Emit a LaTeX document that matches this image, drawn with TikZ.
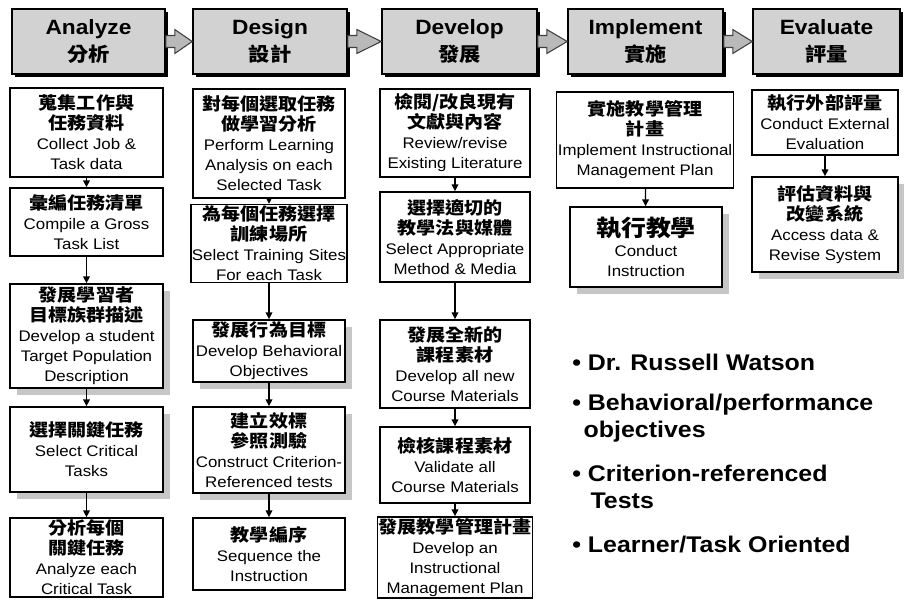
\documentclass[tikz,border=0pt]{standalone}
\usepackage{fontspec}
\setmainfont{Liberation Sans}[FakeStretch=1.1]
\newfontfamily\cjk{Noto Sans CJK TC}[FakeStretch=1.1]
\usetikzlibrary{arrows.meta,shadows}
\newcommand\zh[1]{{\cjk\bfseries\fontsize{13}{15}\selectfont #1}}
\newcommand\zhh[1]{{\cjk\bfseries\fontsize{14.5}{20}\selectfont #1}}
\newcommand\zhb[1]{{\cjk\bfseries\fontsize{17}{20}\selectfont #1}}
\newcommand\mybox[7][]{\node[box,#1,minimum width={(#4-#2)*0.75pt},minimum height={(#5-#3)*0.75pt}] (#6) at ({(#2+#4)/2},{(#3+#5)/2}) {#7};}
\newcommand\myhdr[6]{\node[hdr,minimum width={(#3-#1)*0.75pt},minimum height={(#4-#2)*0.75pt}] (#5) at ({(#1+#3)/2},{(#2+#4)/2}) {#6};}
\newcommand\harrow[2]{\path[harr] ([shift={(0,-6)}]#1.east) -- ([shift={(9,-6)}]#1.east) -- ([shift={(9,-12)}]#1.east) -- (#2.west) -- ([shift={(9,12)}]#1.east) -- ([shift={(9,6)}]#1.east) -- ([shift={(0,6)}]#1.east) -- cycle;}
\begin{document}
\begin{tikzpicture}[x=0.75pt,y=-0.75pt,
  box/.style={draw, line width=1.3pt, fill=white, align=center, inner sep=1pt, font=\fontsize{11.5}{15}\selectfont},
  shad/.style={drop shadow={shadow xshift=5.25pt, shadow yshift=-5.25pt, fill=gray!45, opacity=1}},
  hdr/.style={draw, line width=1.2pt, fill=gray!35, align=center, inner sep=1pt, drop shadow={shadow xshift=2.2pt, shadow yshift=-2.2pt, fill=black, opacity=1}, font=\bfseries\fontsize{15.5}{20}\selectfont},
  flow/.style={-{Triangle[length=5pt,width=5pt]}, line width=0.9pt},
  harr/.style={fill=gray!55, draw=black!75, line width=0.8pt},
  bul/.style={inner sep=0pt, anchor=west, align=left, font=\bfseries\fontsize{17}{20}\selectfont}]
\fill[white] (0,0) rectangle (904,600);
\useasboundingbox (0,0) rectangle (904,600);

% headers
\myhdr{12}{9}{165}{74}{h1}{Analyze\\\zhh{分析}}
\myhdr{193}{9}{347}{74}{h2}{Design\\\zhh{設計}}
\myhdr{382}{9}{537}{74}{h3}{Develop\\\zhh{發展}}
\myhdr{568}{9}{723}{74}{h4}{Implement\\\zhh{實施}}
\myhdr{753}{9}{900}{74}{h5}{Evaluate\\\zhh{評量}}
\harrow{h1}{h2}
\harrow{h2}{h3}
\harrow{h3}{h4}
\harrow{h4}{h5}

% column 1
\mybox{10}{88}{163}{177}{a1}{\zh{蒐集工作與}\\\zh{任務資料}\\Collect Job \&\\Task data}
\mybox{10}{188}{163}{256}{a2}{\zh{彙編任務清單}\\Compile a Gross\\Task List}
\mybox[shad]{10}{284}{163}{388}{a3}{\zh{發展學習者}\\\zh{目標族群描述}\\Develop a student\\Target Population\\Description}
\mybox[shad]{10}{407}{163}{492}{a4}{\zh{選擇關鍵任務}\\Select Critical\\Tasks}
\mybox{10}{518}{163}{597}{a5}{\zh{分析每個}\\\zh{關鍵任務}\\Analyze each\\Critical Task}

% column 2
\mybox{193}{89}{345}{198}{d1}{\zh{對每個選取任務}\\\zh{做學習分析}\\Perform Learning\\Analysis on each\\Selected Task}
\mybox{193}{207}{345}{280}{d2}{\zh{為每個任務選擇}\\\zh{訓練場所}\\Select Training Sites\\For each Task}
\mybox[shad]{193}{320}{345}{382}{d3}{\zh{發展行為目標}\\Develop Behavioral\\Objectives}
\mybox[shad]{193}{407}{345}{493}{d4}{\zh{建立效標}\\\zh{參照測驗}\\Construct Criterion-\\Referenced tests}
\mybox{193}{518}{345}{590}{d5}{\zh{教學編序}\\Sequence the\\Instruction}

% column 3
\mybox{380}{89}{530}{177}{v1}{\zh{檢閱/改良現有}\\\zh{文獻與內容}\\Review/revise\\Existing Literature}
\mybox{380}{192}{530}{282}{v2}{\zh{選擇適切的}\\\zh{教學法與媒體}\\Select Appropriate\\Method \& Media}
\mybox{380}{320}{530}{408}{v3}{\zh{發展全新的}\\\zh{課程素材}\\Develop all new\\Course Materials}
\mybox{380}{427}{530}{503}{v4}{\zh{檢核課程素材}\\Validate all\\Course Materials}
\mybox{380}{517}{530}{598}{v5}{\zh{發展教學管理計畫}\\Develop an\\Instructional\\Management Plan}

% column 4
\mybox{568}{92}{722}{188}{i1}{\zh{實施教學管理}\\\zh{計畫}\\Implement Instructional\\Management Plan}
\mybox[shad]{570}{207}{722}{287}{i2}{\zhb{執行教學}\\Conduct\\Instruction}

% column 5
\mybox{752}{90}{898}{155}{e1}{\zh{執行外部評量}\\Conduct External\\Evaluation}
\mybox[shad]{752}{177}{898}{272}{e2}{\zh{評估資料與}\\\zh{改變系統}\\Access data \&\\Revise System}

% flows
\draw[flow] (a1) -- (a2);
\draw[flow] (a2) -- (a3);
\draw[flow] (a3) -- (a4);
\draw[flow] (a4) -- (a5);
\draw[flow] (d1) -- (d2);
\draw[flow] (d2) -- (d3);
\draw[flow] (d3) -- (d4);
\draw[flow] (d4) -- (d5);
\draw[flow] (v1) -- (v2);
\draw[flow] (v2) -- (v3);
\draw[flow] (v3) -- (v4);
\draw[flow] (v4) -- (v5);
\draw[flow] (i1) -- (i2);
\draw[flow] (e1) -- (e2);

% bullets
\node[bul] (b1) at (572,362) {•\ Dr. Russell Watson};
\node[bul] (b2) at (572,418) {•\ Behavioral/performance\\\phantom{•}\hspace{2pt}objectives};
\node[bul] (b3) at (572,487) {•\ Criterion-referenced\\\phantom{•\ }\hspace{2pt}Tests};
\node[bul] (b4) at (572,545) {•\ Learner/Task Oriented};
\end{tikzpicture}
\end{document}
